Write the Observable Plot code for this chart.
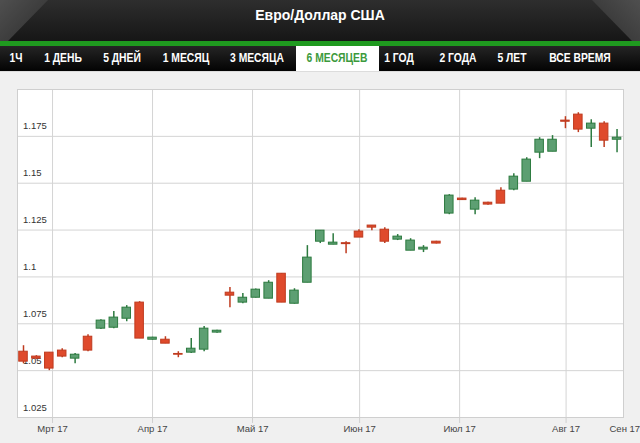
<!DOCTYPE html>
<html>
<head>
<meta charset="utf-8">
<script src="https://cdn.jsdelivr.net/npm/d3@7"></script>
<script src="https://cdn.jsdelivr.net/npm/@observablehq/plot@0.6"></script>
<style>
  html, body { margin: 0; padding: 0; background: #f0f0f0; }
  #page { position: relative; width: 640px; height: 443px; overflow: hidden; font-family: "Liberation Sans", Arial, sans-serif; }
  #header { position: absolute; left: 0; top: 0; width: 640px; height: 41px; background: linear-gradient(#2e2e2e, #161616); overflow: hidden; }
  #header .cornerL { position: absolute; left: 0; top: 0; width: 60px; height: 41px; background: linear-gradient(135deg, #4f4f4f 0%, #383838 60%, #262626 100%); clip-path: polygon(0 0, 48px 0, 8px 41px, 0 41px); }
  #header .cornerR { position: absolute; right: 0; top: 0; width: 60px; height: 41px; background: linear-gradient(225deg, #4f4f4f 0%, #383838 60%, #262626 100%); clip-path: polygon(12px 0, 60px 0, 60px 41px, 52px 41px); }
  #title { position: absolute; left: 0; top: 7px; width: 640px; text-align: center; color: #fff; font-weight: bold; font-size: 14px; }
  #greenbar { position: absolute; left: 0; top: 41px; width: 640px; height: 5px; background: #1f9a1f; }
  #tabs { position: absolute; left: 0; top: 46px; width: 640px; height: 25px; background: linear-gradient(#252525, #030303); }
  .tab { position: absolute; top: 0; height: 25px; line-height: 25px; color: #fff; font-weight: bold; font-size: 12px; transform: translateX(-50%) scaleX(0.86); white-space: nowrap; }
  #active { position: absolute; left: 296px; top: 46px; width: 83px; height: 25px; background: #fff; }
  .tab.on { color: #3c9a3c; }
  #sep { position: absolute; left: 0; top: 71px; width: 640px; height: 1px; background: #dcdcdc; }
  #chart { position: absolute; left: 0; top: 72px; }
</style>
</head>
<body>
<div id="page">
  <div id="header"><div class="cornerL"></div><div class="cornerR"></div><div id="title">Евро/Доллар США</div></div>
  <div id="greenbar"></div>
  <div id="tabs"></div>
  <div id="active"></div>
  <div id="tabtext"></div>
  <div id="sep"></div>
  <div id="chart"></div>
</div>
<script>
// Tabs
const tabLabels = ["1Ч", "1 ДЕНЬ", "5 ДНЕЙ", "1 МЕСЯЦ", "3 МЕСЯЦА", "6 МЕСЯЦЕВ", "1 ГОД", "2 ГОДА", "5 ЛЕТ", "ВСЕ ВРЕМЯ"];
const tabCenters = [16, 63, 122, 186, 257, 337, 399, 458, 512, 580];
const activeTab = "6 МЕСЯЦЕВ";

// Candles (bars over 6 months)
const opens  = [1.0601,1.0575,1.0596,1.0607,1.0564,1.0681,1.0724,1.0729,1.0777,1.0863,1.0665,1.0665,1.0589,1.0596,1.0612,1.0703,1.0916,1.0863,1.0889,1.0884,1.1017,1.0857,1.0969,1.1188,1.1172,1.1180,1.1242,1.1274,1.1252,1.1199,1.1140,1.1146,1.1188,1.1338,1.1418,1.1359,1.1396,1.1460,1.1466,1.1508,1.1663,1.1668,1.1834,1.1866,1.1791,1.1818,1.1732];
const closes = [1.0548,1.0564,1.0511,1.0575,1.0585,1.0607,1.0767,1.0783,1.0836,1.0671,1.0676,1.0644,1.0585,1.0617,1.0724,1.0713,1.0900,1.0889,1.0932,1.0969,1.0863,1.0927,1.1103,1.1247,1.1183,1.1175,1.1210,1.1263,1.1188,1.1215,1.1194,1.1156,1.1178,1.1434,1.1410,1.1407,1.1386,1.1391,1.1535,1.1626,1.1732,1.1732,1.1828,1.1786,1.1818,1.1727,1.1743];
const highs  = [1.0633,1.0580,1.0596,1.0617,1.0591,1.0692,1.0772,1.0815,1.0847,1.0868,1.0678,1.0681,1.0601,1.0671,1.0735,1.0716,1.0943,1.0911,1.0935,1.0980,1.1017,1.0937,1.1167,1.1247,1.1231,1.1188,1.1252,1.1274,1.1263,1.1226,1.1204,1.1167,1.1190,1.1439,1.1420,1.1423,1.1399,1.1476,1.1551,1.1636,1.1743,1.1754,1.1855,1.1876,1.1839,1.1828,1.1786];
const lows   = [1.0537,1.0559,1.0500,1.0569,1.0537,1.0601,1.0719,1.0724,1.0761,1.0671,1.0663,1.0644,1.0569,1.0591,1.0601,1.0700,1.0836,1.0857,1.0887,1.0884,1.0863,1.0855,1.0969,1.1178,1.1172,1.1124,1.1210,1.1247,1.1178,1.1194,1.1140,1.1130,1.1176,1.1332,1.1408,1.1332,1.1383,1.1391,1.1460,1.1508,1.1631,1.1668,1.1791,1.1770,1.1690,1.1690,1.1663];

// Axes
const yTicks = [1.025, 1.05, 1.075, 1.1, 1.125, 1.15, 1.175];
const yTickLabels = ["1.025", "1.05", "1.075", "1.1", "1.125", "1.15", "1.175"];
const monthTicks = [2.25, 10.0, 17.75, 26.05, 33.8, 42.05, 46.6]; // position in bar index units
const monthLabels = ["Мрт 17", "Апр 17", "Май 17", "Июн 17", "Июл 17", "Авг 17", "Сен 17"];

// build tabs
const tabsDiv = document.getElementById("tabtext");
tabLabels.forEach((t, i) => {
  const el = document.createElement("div");
  el.className = "tab" + (t === activeTab ? " on" : "");
  el.style.left = tabCenters[i] + "px";
  el.style.top = "46px";
  el.textContent = t;
  tabsDiv.appendChild(el);
});

const bars = opens.map((o, i) => ({
  i, open: o, close: closes[i], high: highs[i], low: lows[i],
  up: closes[i] >= o
}));
const months = monthTicks.map((t, i) => ({ t, label: monthLabels[i] }));

const upFill = "#5d9f72", upStroke = "#2c7a3f";
const dnFill = "#df4a2c", dnStroke = "#bf3b1f";

const chart = Plot.plot({
  width: 640,
  height: 371,
  marginLeft: 17,
  marginRight: 17,
  marginTop: 17,
  marginBottom: 26,
  style: { background: "transparent", fontFamily: "Liberation Sans, Arial, sans-serif", fontSize: "9.5px", color: "#444", overflow: "visible" },
  x: { domain: [-0.465, 46.5], axis: null },
  y: { domain: [1.025, 1.2], axis: null },
  marks: [
    Plot.frame({ fill: "#fff", stroke: "none" }),
    Plot.gridY(yTicks, { stroke: "#d4d4d4", strokeOpacity: 1 }),
    Plot.gridX(monthTicks.slice(0, 6), { stroke: "#d4d4d4", strokeOpacity: 1 }),
    Plot.frame({ stroke: "#cfcfcf" }),
    Plot.ruleX(monthTicks.slice(0, 6), {
      x: d => d,
      y1: 1.025,
      y2: 1.025 - 0.0032,
      stroke: "#cfcfcf"
    }),
    Plot.text(months, {
      x: "t",
      frameAnchor: "bottom",
      text: "label",
      dy: 14,
      fill: "#444",
      fontSize: 9.5
    }),
    Plot.text(yTicks, {
      x: -0.465,
      y: d => d,
      text: (d, i) => yTickLabels[i],
      textAnchor: "start",
      dx: 5.5,
      dy: -10,
      fill: "#333",
      fontSize: 9.5
    }),
    Plot.ruleX(bars, {
      x: "i", y1: "low", y2: "high",
      stroke: d => d.up ? upStroke : dnStroke,
      strokeWidth: 1.5
    }),
    Plot.rect(bars, {
      x1: d => d.i - 0.33, x2: d => d.i + 0.33,
      y1: "open", y2: "close",
      fill: d => d.up ? upFill : dnFill,
      stroke: d => d.up ? upStroke : dnStroke,
      strokeWidth: 1
    })
  ]
});
document.getElementById("chart").appendChild(chart);
</script>
</body>
</html>
